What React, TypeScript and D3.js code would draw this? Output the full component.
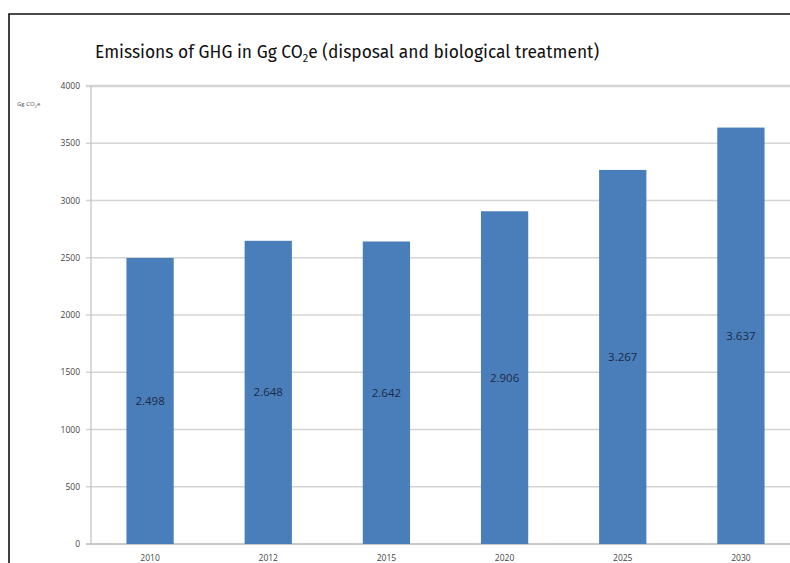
import * as d3 from "d3";
import { useEffect, useRef } from "react";

const years = ["2010", "2012", "2015", "2020", "2025", "2030"];
const emissions = [2498, 2648, 2642, 2906, 3267, 3637];
const valueLabels = ["2.498", "2.648", "2.642", "2.906", "3.267", "3.637"];
const yTicks = [0, 500, 1000, 1500, 2000, 2500, 3000, 3500, 4000];

const App = () => {
  const ref = useRef<SVGSVGElement>(null);

  useEffect(() => {
    const svg = d3.select(ref.current);
    svg.selectAll("*").remove();

    const width = 790;
    const height = 563;
    const plotLeft = 91;
    const plotRight = 800;
    const plotTop = 86;
    const plotBottom = 544;

    svg.attr("width", width).attr("height", height);

    svg.append("rect").attr("width", width).attr("height", height).attr("fill", "#fff");

    // frame around the figure
    svg
      .append("path")
      .attr("d", `M9,${height} L9,14 L${width},14`)
      .attr("fill", "none")
      .attr("stroke", "#111")
      .attr("stroke-width", 1.6);

    // title
    const title = svg
      .append("text")
      .attr("x", 95)
      .attr("y", 58)
      .attr("font-family", "'Fira Sans', 'Open Sans', sans-serif")
      .attr("font-size", 17.4)
      .attr("fill", "#111");
    title.append("tspan").text("Emissions of GHG in Gg CO");
    title.append("tspan").attr("font-size", 11).attr("dy", 4).text("2");
    title.append("tspan").attr("dy", -4).text("e (disposal and biological treatment)");

    const x = d3
      .scaleBand()
      .domain(years)
      .range([plotLeft, plotRight])
      .paddingInner(0.6)
      .paddingOuter(0.3);

    const y = d3.scaleLinear().domain([0, 4000]).range([plotBottom, plotTop]);

    // gridlines
    svg
      .append("g")
      .selectAll("line")
      .data(yTicks)
      .join("line")
      .attr("x1", plotLeft - 5)
      .attr("x2", width)
      .attr("y1", (d) => y(d))
      .attr("y2", (d) => y(d))
      .attr("stroke", (d) => (d === 0 ? "#b8b8b8" : "#d4d4d4"))
      .attr("stroke-width", (d) => (d === 4000 ? 2.5 : 1.3));

    // y axis line
    svg
      .append("line")
      .attr("x1", plotLeft)
      .attr("x2", plotLeft)
      .attr("y1", plotTop)
      .attr("y2", plotBottom)
      .attr("stroke", "#c4c4c4")
      .attr("stroke-width", 1.3);

    // y tick labels
    svg
      .append("g")
      .selectAll("text")
      .data(yTicks)
      .join("text")
      .attr("x", 80)
      .attr("y", (d) => y(d) + 3)
      .attr("text-anchor", "end")
      .attr("font-family", "'Open Sans', sans-serif")
      .attr("font-size", 8.5)
      .attr("fill", "#444")
      .text((d) => d);

    // unit label
    const unit = svg
      .append("text")
      .attr("x", 17)
      .attr("y", 106)
      .attr("font-family", "'Open Sans', sans-serif")
      .attr("font-size", 6)
      .attr("fill", "#555");
    unit.append("tspan").text("Gg CO");
    unit.append("tspan").attr("font-size", 4).attr("dy", 1.5).text("2");
    unit.append("tspan").attr("dy", -1.5).text("e");

    // bars
    svg
      .append("g")
      .selectAll("rect")
      .data(emissions)
      .join("rect")
      .attr("x", (d, i) => x(years[i]) as number)
      .attr("y", (d) => y(d))
      .attr("width", x.bandwidth())
      .attr("height", (d) => plotBottom - y(d))
      .attr("fill", "#4a7ebb");

    // value labels in bar middle
    svg
      .append("g")
      .selectAll("text")
      .data(emissions)
      .join("text")
      .attr("x", (d, i) => (x(years[i]) as number) + x.bandwidth() / 2)
      .attr("y", (d) => y(d / 2) + 4)
      .attr("text-anchor", "middle")
      .attr("font-family", "'Open Sans', sans-serif")
      .attr("font-size", 11.5)
      .attr("fill", "#1c2a48")
      .text((d, i) => valueLabels[i]);

    // x labels
    svg
      .append("g")
      .selectAll("text")
      .data(years)
      .join("text")
      .attr("x", (d) => (x(d) as number) + x.bandwidth() / 2)
      .attr("y", 561)
      .attr("text-anchor", "middle")
      .attr("font-family", "'Open Sans', sans-serif")
      .attr("font-size", 8.5)
      .attr("fill", "#444")
      .text((d) => d);
  }, []);

  return <svg ref={ref} style={{ position: "absolute", left: 0, top: 0, display: "block" }}></svg>;
};

export default App;
